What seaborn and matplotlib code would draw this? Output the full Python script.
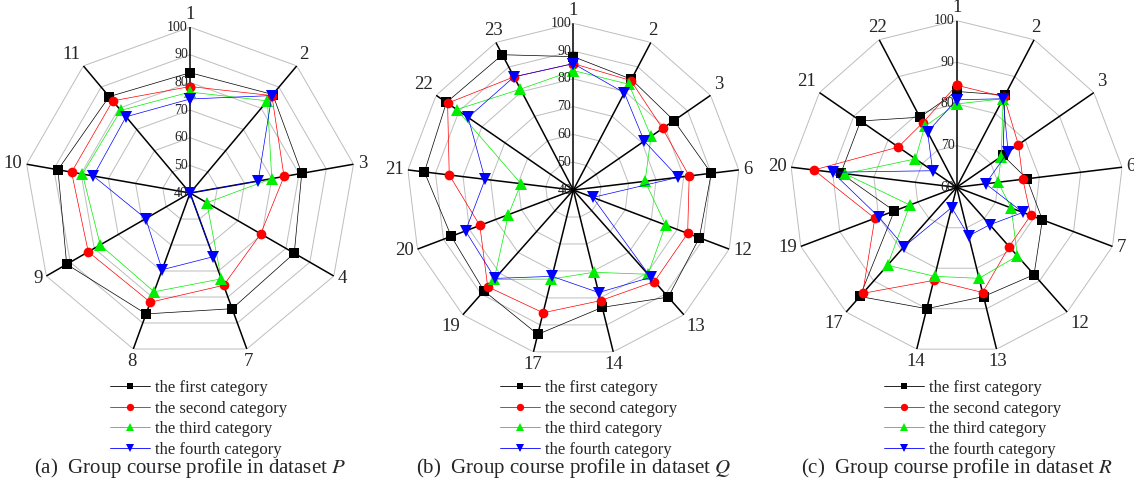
import matplotlib.pyplot as plt
from matplotlib.lines import Line2D
import seaborn as sns
import numpy as np
import pandas as pd

sns.set_theme(style="white")
plt.rcParams["font.family"] = ["Liberation Serif", "DejaVu Serif"]
plt.rcParams["mathtext.fontset"] = "stix"

series_names = ["the first category", "the second category",
                "the third category", "the fourth category"]
series_colors = ["#000000", "#ff0000", "#00ee00", "#0000ff"]
series_markers = ["s", "o", "^", "v"]
marker_sizes = [6.5, 7, 8.5, 8.5]

# dataset P
cats_p = ["1", "2", "3", "4", "7", "8", "9", "10", "11"]
first_p = [83.5, 86.5, 81, 83.5, 84.5, 86.5, 91.5, 88.5, 85.5]
second_p = [78.5, 86, 74.5, 69.5, 75.5, 82, 82.5, 83.5, 83.5]
third_p = [76.5, 83.5, 70, 47, 73, 78, 77.5, 79.5, 79]
fourth_p = [74, 86, 65, 40, 64.5, 69.5, 58.5, 75.5, 76]
ticks_p = [40, 50, 60, 70, 80, 90, 100]

# dataset Q
cats_q = ["1", "2", "3", "6", "12", "13", "14", "17", "19", "20", "21", "22", "23"]
first_q = [88, 85, 84, 90, 88.5, 91.5, 83.5, 93.5, 88.5, 87, 94, 95.5, 95]
second_q = [85.5, 84.5, 79, 82, 84, 84, 81, 85.5, 86.5, 76, 85, 95, 86]
third_q = [83, 83, 74, 66, 75.5, 80.5, 70.5, 73, 83, 65, 59, 91, 81]
fourth_q = [85.5, 79.5, 71, 78, 47.5, 82, 78, 72, 82.5, 81.5, 72, 86, 86]
ticks_q = [40, 50, 60, 70, 80, 90, 100]

# dataset R
cats_r = ["1", "2", "3", "6", "7", "12", "13", "14", "17", "19", "20", "21", "22"]
first_r = [83, 85, 73.5, 77, 82, 88, 87, 90, 95, 76, 88, 88, 79]
second_r = [84.5, 84.5, 78, 76, 79, 79, 86, 83, 94, 81, 94.5, 77, 77.5]
third_r = [80, 84, 73, 70, 74, 82, 82.5, 82, 85, 72, 87, 72, 76.5]
fourth_r = [81, 84, 75, 67, 77, 72, 72, 65, 79, 80, 90, 67, 75]
ticks_r = [60, 70, 80, 90, 100]

panels = [
    (cats_p, [first_p, second_p, third_p, fourth_p], ticks_p,
     "(a)  Group course profile in dataset $P$", [0.0212, 0.2613, 0.2928, 0.683]),
    (cats_q, [first_q, second_q, third_q, fourth_q], ticks_q,
     "(b)  Group course profile in dataset $Q$", [0.3586, 0.266, 0.294, 0.686]),
    (cats_r, [first_r, second_r, third_r, fourth_r], ticks_r,
     "(c)  Group course profile in dataset $R$", [0.6966, 0.2716, 0.294, 0.686]),
]
legend_x = [110, 500, 884]

fig = plt.figure(figsize=(11.34, 4.86), dpi=100)

for i, (cats, vals, ticks, caption, pos) in enumerate(panels):
    ax = fig.add_axes(pos, projection="polar")
    n = len(cats)
    theta = np.linspace(0, 2 * np.pi, n, endpoint=False)
    theta_c = np.append(theta, 2 * np.pi)
    rmin, rmax = ticks[0], ticks[-1]

    # polygon grid + spokes
    for lvl in ticks[1:]:
        ax.plot(theta_c, [lvl] * (n + 1), color="#bdbdbd", lw=0.7, zorder=1)
    for t in theta:
        ax.plot([t, t], [rmin, rmax], color="black", lw=1.1, zorder=2)

    for name, v, c, m, ms in zip(series_names, vals, series_colors,
                                 series_markers, marker_sizes):
        df = pd.DataFrame({"theta": theta_c, "value": list(v) + [v[0]]})
        sns.lineplot(data=df, x="theta", y="value", color=c, marker=m,
                     markersize=ms, markeredgewidth=0, lw=0.5, sort=False,
                     estimator=None, ax=ax, zorder=3)

    ax.set_theta_zero_location("N")
    ax.set_theta_direction(-1)
    ax.set_ylim(rmin, rmax)
    ax.grid(False)
    ax.spines["polar"].set_visible(False)
    ax.set_xticks([])
    ax.set_yticks([])
    ax.set_xlabel("")
    ax.set_ylabel("")

    for t, lab in zip(theta, cats):
        s, c = np.sin(t), np.cos(t)
        ha = "left" if s > 0.55 else ("right" if s < -0.55 else "center")
        va = "bottom" if c > 0.55 else ("top" if c < -0.55 else "center")
        ax.annotate(lab, xy=(t, rmax), xytext=(3 * s, 3 * c), textcoords="offset points",
                    ha=ha, va=va, fontsize=13.5, annotation_clip=False)
    for lvl in ticks:
        ax.annotate(str(lvl), xy=(0, lvl), xytext=(-1.5, 0), textcoords="offset points",
                    ha="right", va="center", fontsize=10, color="#222222")

    handles = [Line2D([], [], color=c, marker=m, lw=0.6, markersize=ms * 0.75,
                      markeredgewidth=0)
               for c, m, ms in zip(series_colors, series_markers, marker_sizes)]
    ax.legend(handles, series_names, loc="upper left",
              bbox_to_anchor=(legend_x[i] / 1134, 1 - 380 / 486),
              bbox_transform=fig.transFigure, frameon=False, fontsize=12,
              borderpad=0, borderaxespad=0, handlelength=2.4, handletextpad=0.3,
              labelspacing=0.27)

    cx = pos[0] + pos[2] / 2
    fig.text(cx, 1 - 468 / 486, caption, ha="center", va="center", fontsize=15)

fig.savefig("out.png", dpi=100)
